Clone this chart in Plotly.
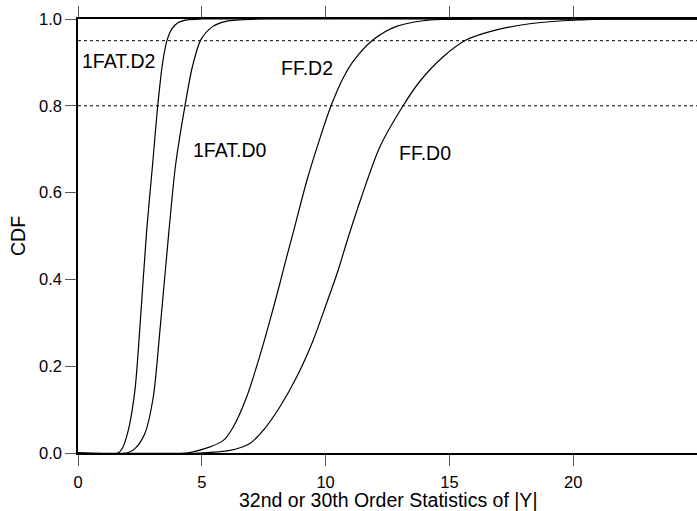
import plotly.graph_objects as go

# ---- data ----
fat_d2_x = [0, 1.62, 1.80, 2.03, 2.30, 2.50, 2.77, 3.01, 3.22, 3.42, 3.60, 3.80, 4.05, 4.40, 5.0, 25]
fat_d2_y = [0, 0, 0.012, 0.052, 0.145, 0.29, 0.51, 0.663, 0.80, 0.90, 0.952, 0.978, 0.992, 0.998, 1, 1]

fat_d0_x = [0, 1.97, 2.30, 2.70, 3.04, 3.31, 3.67, 3.94, 4.32, 4.62, 4.96, 5.45, 5.93, 6.54, 7.5, 25]
fat_d0_y = [0, 0, 0.010, 0.045, 0.129, 0.283, 0.51, 0.663, 0.80, 0.89, 0.952, 0.983, 0.994, 0.998, 1, 1]

ff_d2_x = [0, 4.39, 5.33, 5.87, 6.27, 6.81, 7.35, 7.75, 8.15, 8.42, 8.71, 9.23, 9.77, 10.22, 10.71, 11.15,
           11.92, 12.86, 13.94, 14.7, 16, 25]
ff_d2_y = [0, 0, 0.014, 0.029, 0.06, 0.129, 0.225, 0.305, 0.39, 0.45, 0.512, 0.625, 0.725, 0.80, 0.864, 0.905,
           0.952, 0.983, 0.996, 0.999, 1, 1]

ff_d0_x = [0, 4.92, 6.14, 6.94, 7.48, 8.15, 8.83, 9.50, 10.04, 10.50, 10.93, 11.45, 12.19, 13.13, 13.80,
           14.75, 15.69, 16.90, 18.24, 19.59, 20.4, 21.5, 25]
ff_d0_y = [0, 0, 0.006, 0.022, 0.052, 0.106, 0.175, 0.26, 0.345, 0.42, 0.50, 0.59, 0.705, 0.80, 0.856,
           0.913, 0.952, 0.975, 0.989, 0.996, 0.998, 1, 1]

series_names = ["1FAT.D2", "1FAT.D0", "FF.D2", "FF.D0"]
label_x = [1.655, 6.12, 9.24, 14.03]
label_y = [0.904, 0.698, 0.887, 0.691]

ref_levels = [0.8, 0.95]

x_ticks = [0, 5, 10, 15, 20]
y_ticks = [0, 0.2, 0.4, 0.6, 0.8, 1.0]
y_ticktext = ["0.0", "0.2", "0.4", "0.6", "0.8", "1.0"]

x_title = "32nd or 30th Order Statistics of |Y|"
y_title = "CDF"

FONT = "Liberation Sans, Arial, Helvetica, sans-serif"

fig = go.Figure()
for xs, ys, nm in [(fat_d2_x, fat_d2_y, series_names[0]), (fat_d0_x, fat_d0_y, series_names[1]),
                   (ff_d2_x, ff_d2_y, series_names[2]), (ff_d0_x, ff_d0_y, series_names[3])]:
    fig.add_trace(go.Scatter(x=xs, y=ys, mode="lines", name=nm,
                             line=dict(color="black", width=1.2, shape="spline", smoothing=0.8),
                             showlegend=False, hoverinfo="skip"))

for lv in ref_levels:
    fig.add_shape(type="line", xref="x", yref="y", x0=0, x1=25, y0=lv, y1=lv,
                  line=dict(color="black", width=1, dash="dot"), layer="below")

annotations = []
for nm, lx, ly in zip(series_names, label_x, label_y):
    annotations.append(dict(x=lx, y=ly, xref="x", yref="y", text=nm, showarrow=False,
                            xanchor="center", yanchor="middle",
                            font=dict(family=FONT, size=19.5, color="black")))
annotations.append(dict(x=0.5, y=0, xref="paper", yref="paper", text=x_title, showarrow=False,
                        xanchor="center", yanchor="middle", yshift=-47,
                        font=dict(family=FONT, size=19.5, color="black")))
annotations.append(dict(x=0, y=0.5, xref="paper", yref="paper", text=y_title, showarrow=False,
                        xanchor="center", yanchor="middle", xshift=-60, textangle=-90,
                        font=dict(family=FONT, size=19.5, color="black")))

fig.update_layout(
    width=697, height=511,
    margin=dict(l=78, r=0, t=19, b=58),
    paper_bgcolor="white", plot_bgcolor="white",
    annotations=annotations,
    xaxis=dict(range=[0, 25], tickvals=x_ticks, showgrid=False, zeroline=False,
               showline=True, linecolor="black", linewidth=1.5, mirror="ticks",
               ticks="outside", ticklen=11, tickcolor="#555", tickwidth=1,
               ticklabelstandoff=2,
               tickfont=dict(family=FONT, size=16.5, color="black")),
    yaxis=dict(range=[0, 1], tickvals=y_ticks, ticktext=y_ticktext, showgrid=False, zeroline=False,
               showline=True, linecolor="black", linewidth=1.5,
               ticks="outside", ticklen=11, tickcolor="#555", tickwidth=1,
               tickfont=dict(family=FONT, size=16.5, color="black")),
)

fig.write_html("out.html", config={"displayModeBar": False},
               post_script="document.body.style.margin='0px';document.body.style.overflow='hidden';")
